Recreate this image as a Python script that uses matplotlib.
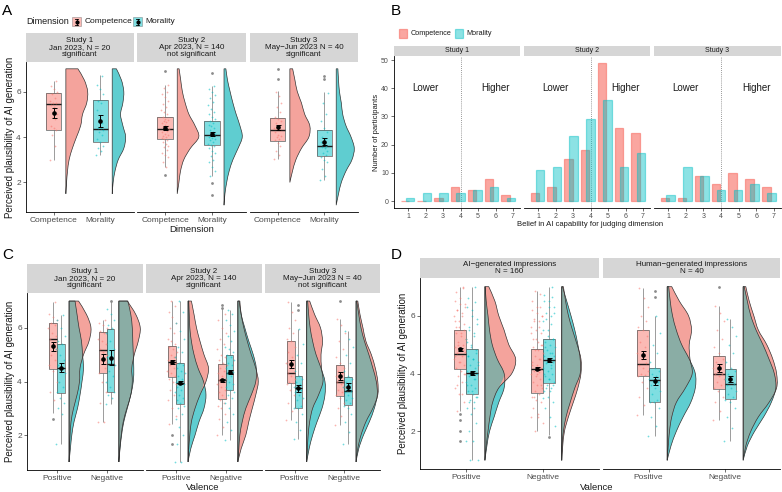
import numpy as np
import matplotlib.pyplot as plt
from matplotlib.path import Path
from matplotlib.patches import PathPatch, Rectangle

plt.rcParams['font.family'] = ['Liberation Sans', 'DejaVu Sans']

RED = '#F8766D'
TEAL = '#00BFC4'
RED_V = '#F4A39C'
TEAL_V = '#5FCDD0'
MIX_V = '#8AADA5'
TXT = '#4D4D4D'
STRIP = '#D6D6D6'

# ---------------- data ----------------
dims = ['Competence', 'Morality']
valences = ['Positive', 'Negative']
dens_y = [1.0, 1.5, 2.0, 2.5, 3.0, 3.5, 4.0, 4.5, 5.0, 5.5, 6.0, 6.5, 7.0]

# panel A (by dimension), one entry per study
a_strips = ['Study 1\nJan 2023, N = 20\nsignificant',
            'Study 2\nApr 2023, N = 140\nnot significant',
            'Study 3\nMay\u2212Jun 2023 N = 40\nsignificant']
# box = [lower whisker, q1, median, q3, upper whisker]
a_comp_box = [[3.0, 4.33, 5.46, 5.95, 6.46], [2.7, 3.90, 4.37, 4.86, 6.3], [3.04, 3.81, 4.30, 4.83, 6.04]]
a_mor_box = [[3.19, 3.78, 4.34, 5.62, 6.73], [2.3, 3.66, 4.10, 4.71, 6.25], [2.1, 3.15, 3.59, 4.33, 6.0]]
a_comp_mean = [5.05, 4.40, 4.42]
a_comp_se = [0.22, 0.08, 0.13]
a_mor_mean = [4.70, 4.15, 3.80]
a_mor_se = [0.25, 0.09, 0.15]
a_comp_dens = [[0, 0, .015, .036, .07, .14, .23, .32, .36, .45, .47, .40, .26],
               [0, 0, .036, .07, .14, .28, .46, .38, .25, .17, .11, .075, .04],
               [0, 0, 0, .057, .13, .25, .41, .43, .32, .25, .16, .11, .06]]
a_mor_dens = [[0, 0, .02, .06, .13, .25, .29, .23, .18, .23, .25, .20, .09],
              [0, .02, .057, .11, .19, .30, .39, .34, .26, .19, .13, .075, .04],
              [0, .05, .11, .21, .34, .39, .32, .21, .14, .11, .07, .05, .036]]
a_comp_pts = [[3.0, 3.6, 4.1, 4.3, 4.4, 4.5, 4.8, 4.9, 5.0, 5.3, 5.4, 5.5, 5.5, 5.6, 5.7, 5.9, 6.0, 6.1, 6.25, 6.45],
              [2.35, 2.7, 2.9, 3.1, 3.2, 3.3, 3.45, 3.55, 3.6, 3.7, 3.8, 3.85, 3.9, 3.95, 4.0, 4.05, 4.1, 4.15,
               4.2, 4.25, 4.3, 4.35, 4.4, 4.45, 4.5, 4.55, 4.6, 4.65, 4.7, 4.75, 4.8, 4.9, 5.0, 5.1, 5.2, 5.3,
               5.45, 5.6, 5.75, 5.9, 6.0, 6.15, 6.3, 6.9],
              [3.05, 3.2, 3.4, 3.6, 3.75, 3.85, 3.9, 4.0, 4.05, 4.1, 4.2, 4.3, 4.35, 4.4, 4.5, 4.6, 4.7, 4.8,
               4.9, 5.1, 5.3, 5.5, 5.8, 6.0, 6.55, 6.98]]
a_mor_pts = [[3.2, 3.4, 3.5, 3.6, 3.8, 3.9, 4.1, 4.2, 4.3, 4.4, 4.4, 4.6, 4.9, 5.2, 5.5, 5.6, 5.9, 6.1, 6.3, 6.7],
             [1.45, 1.98, 2.3, 2.5, 2.7, 2.9, 3.0, 3.15, 3.3, 3.4, 3.5, 3.6, 3.65, 3.7, 3.8, 3.85, 3.9, 3.95,
              4.0, 4.05, 4.1, 4.15, 4.2, 4.3, 4.4, 4.5, 4.55, 4.6, 4.7, 4.8, 4.9, 5.0, 5.1, 5.25, 5.4, 5.55,
              5.7, 5.85, 6.0, 6.1, 6.25, 6.83],
             [2.1, 2.3, 2.6, 2.9, 3.0, 3.1, 3.2, 3.3, 3.4, 3.5, 3.55, 3.6, 3.7, 3.8, 3.9, 4.0, 4.2, 4.4, 4.7,
              5.0, 5.5, 5.95, 6.54, 6.69]]

# panel B: counts per belief level 1..7
b_strips = ['Study 1', 'Study 2', 'Study 3']
b_levels = [1, 2, 3, 4, 5, 6, 7]
b_comp = [[0, 0, 1, 5, 4, 8, 2], [3, 5, 15, 18, 49, 26, 24], [1, 1, 9, 6, 10, 8, 5]]
b_mor = [[1, 3, 3, 3, 4, 5, 1], [11, 12, 23, 29, 36, 12, 17], [2, 12, 9, 4, 4, 6, 3]]

# panel C (by valence x dimension), [study][valence]
c_strips = ['Study 1\nJan 2023, N = 20\nsignificant',
            'Study 2\nApr 2023, N = 140\nsignificant',
            'Study 3\nMay\u2212Jun 2023 N = 40\nnot significant']
c_comp_box = [[[2.81, 4.48, 5.57, 6.18, 6.96], [2.5, 4.33, 5.16, 5.83, 6.3]],
              [[2.4, 4.15, 4.73, 5.33, 7.0], [2.0, 3.33, 4.05, 4.64, 6.7]],
              [[2.56, 3.93, 4.32, 5.52, 6.96], [2.38, 3.47, 4.0, 4.6, 6.34]]]
c_mor_box = [[[1.66, 3.58, 4.51, 5.41, 6.47], [3.16, 3.59, 4.66, 5.97, 6.96]],
             [[1.0, 3.16, 3.96, 4.68, 7.0], [1.82, 3.68, 4.32, 4.98, 6.65]],
             [[1.84, 3.0, 3.76, 4.2, 5.97], [1.67, 3.12, 3.65, 4.15, 5.9]]]
c_comp_mean = [[5.31, 4.84], [4.73, 4.05], [4.64, 4.19]]
c_comp_se = [[0.17, 0.17], [0.06, 0.06], [0.15, 0.15]]
c_mor_mean = [[4.52, 4.89], [3.96, 4.36], [3.74, 3.81]]
c_mor_se = [[0.18, 0.28], [0.07, 0.07], [0.14, 0.12]]
c_comp_dens = [[[0, .01, .02, .04, .09, .16, .21, .22, .29, .40, .44, .35, .19],
                [0, .02, .047, .088, .16, .24, .27, .26, .31, .39, .43, .34, .17]],
               [[0, .014, .035, .067, .14, .24, .36, .41, .32, .24, .17, .12, .067],
                [0, .067, .16, .22, .29, .36, .41, .36, .27, .19, .12, .067, .04]],
               [[0, .014, .03, .06, .12, .24, .33, .30, .29, .32, .28, .16, .06],
                [0, .035, .10, .20, .34, .44, .44, .39, .31, .20, .14, .08, .035]]]
c_mor_dens = [[[0, .027, .055, .10, .17, .22, .26, .29, .27, .25, .20, .16, .12],
               [0, .024, .055, .10, .17, .24, .29, .30, .29, .28, .27, .24, .18]],
              [[0, .055, .14, .22, .32, .36, .31, .20, .12, .067, .035, .024, .014],
               [0, .02, .04, .088, .16, .27, .36, .37, .31, .22, .14, .067, .027]],
              [[0, .05, .12, .21, .31, .37, .37, .29, .19, .12, .07, .04, .02],
               [0, .055, .15, .27, .37, .43, .41, .34, .26, .17, .10, .055, .014]]]
c_comp_pts = [[[2.6, 3.3, 3.6, 4.0, 4.4, 4.6, 4.8, 5.0, 5.2, 5.4, 5.6, 5.7, 5.8, 6.0, 6.1, 6.2, 6.3, 6.4, 6.5, 6.96],
               [2.5, 2.5, 3.2, 3.6, 4.0, 4.3, 4.5, 4.8, 5.0, 5.1, 5.2, 5.4, 5.5, 5.6, 5.8, 5.9, 6.0, 6.1, 6.2, 6.3]],
              [[1.67, 2.0, 2.4, 2.7, 3.0, 3.3, 3.5, 3.7, 3.9, 4.0, 4.1, 4.2, 4.3, 4.4, 4.5, 4.6, 4.7, 4.75,
                4.8, 4.9, 5.0, 5.1, 5.2, 5.3, 5.4, 5.5, 5.6, 5.8, 6.0, 6.2, 6.4, 6.6, 6.8, 7.0],
               [2.0, 2.3, 2.6, 2.8, 3.0, 3.1, 3.2, 3.3, 3.4, 3.5, 3.6, 3.7, 3.8, 3.9, 4.0, 4.05, 4.1, 4.2,
                4.3, 4.4, 4.5, 4.6, 4.7, 4.8, 4.9, 5.0, 5.2, 5.4, 5.6, 5.8, 6.0, 6.3, 6.5, 6.75, 6.84]],
              [[2.56, 2.9, 3.2, 3.5, 3.7, 3.9, 3.95, 4.0, 4.1, 4.2, 4.3, 4.35, 4.5, 4.7, 4.9, 5.1, 5.3, 5.5,
                5.6, 5.8, 6.0, 6.3, 6.6, 6.96],
               [2.38, 2.7, 3.0, 3.2, 3.4, 3.5, 3.6, 3.7, 3.8, 3.9, 4.0, 4.0, 4.1, 4.2, 4.3, 4.4, 4.5, 4.7,
                4.9, 5.2, 5.5, 5.8, 6.1, 6.34, 7.0]]]
c_mor_pts = [[[1.66, 2.8, 3.0, 3.2, 3.4, 3.6, 3.8, 4.0, 4.3, 4.5, 4.6, 4.8, 5.0, 5.2, 5.4, 5.5, 5.7, 6.0, 6.3, 6.47],
              [3.16, 3.4, 3.5, 3.6, 3.8, 4.0, 4.2, 4.4, 4.6, 4.7, 4.9, 5.2, 5.5, 5.8, 6.0, 6.1, 6.3, 6.5, 6.7, 7.0]],
             [[1.0, 1.0, 1.67, 2.0, 2.3, 2.6, 2.8, 3.0, 3.1, 3.2, 3.3, 3.4, 3.5, 3.6, 3.7, 3.8, 3.9, 4.0,
               4.0, 4.1, 4.2, 4.3, 4.4, 4.5, 4.6, 4.7, 4.9, 5.1, 5.3, 5.6, 5.9, 6.2, 6.6, 7.0],
              [1.82, 2.2, 2.5, 2.8, 3.0, 3.2, 3.4, 3.5, 3.6, 3.7, 3.8, 3.9, 4.0, 4.1, 4.2, 4.3, 4.35, 4.4,
               4.5, 4.6, 4.7, 4.8, 4.9, 5.0, 5.1, 5.2, 5.3, 5.5, 5.7, 5.9, 6.1, 6.3, 6.5, 6.65]],
             [[1.84, 2.2, 2.5, 2.8, 3.0, 3.0, 3.1, 3.3, 3.4, 3.5, 3.6, 3.7, 3.75, 3.8, 3.9, 4.0, 4.1, 4.2,
               4.4, 4.7, 5.0, 5.4, 5.97, 6.65, 6.84],
              [1.67, 2.1, 2.5, 2.8, 3.0, 3.1, 3.2, 3.3, 3.4, 3.5, 3.6, 3.65, 3.7, 3.8, 3.9, 4.0, 4.1, 4.2,
               4.4, 4.7, 5.0, 5.3, 5.6, 5.9]]]

# panel D: AI-generated (studies 1+2) and human-generated (study 3)
d_strips = ['AI\u2212generated impressions\nN = 160', 'Human\u2212generated impressions\nN = 40']
d_ai_comp_box = [[2.7, 4.17, 4.68, 5.52, 7.0], [2.0, 3.34, 4.17, 4.86, 6.84]]
d_ai_mor_box = [[1.0, 3.3, 4.02, 4.86, 7.0], [1.87, 3.68, 4.46, 5.18, 7.0]]
d_ai_comp_mean = [4.83, 4.17]
d_ai_comp_se = [0.06, 0.05]
d_ai_mor_mean = [4.02, 4.46]
d_ai_mor_se = [0.06, 0.06]
d_ai_comp_dens = [[0, .017, .04, .065, .10, .18, .35, .40, .31, .25, .18, .13, .05],
                  [0, .013, .035, .087, .15, .21, .25, .25, .20, .14, .087, .05, .022]]
d_ai_mor_dens = [[0, .026, .06, .12, .18, .25, .25, .16, .095, .06, .04, .017, .004],
                 [0, .004, .022, .056, .11, .17, .24, .24, .21, .17, .12, .065, .01]]

# ---------------- layout helpers ----------------
W, H = 782, 492
fig = plt.figure(figsize=(W / 100, H / 100), dpi=100)


def px_axes(x0, y0, x1, y1):
    return fig.add_axes([x0 / W, 1 - y1 / H, (x1 - x0) / W, (y1 - y0) / H])


def strip(x0, y0, x1, y1, label, size):
    s = px_axes(x0, y0, x1, y1)
    s.set_facecolor(STRIP)
    s.set_xticks([])
    s.set_yticks([])
    for sp in s.spines.values():
        sp.set_visible(False)
    s.text(0.5, 0.5, label, ha='center', va='center', fontsize=size, color='#1A1A1A',
           linespacing=1.05, transform=s.transAxes)


def style(ax, first, xt, xl, ylim, yt, fs=6):
    ax.set_ylim(*ylim)
    for sp in ['top', 'right']:
        ax.spines[sp].set_visible(False)
    ax.spines['left'].set_visible(first)
    ax.spines['bottom'].set_linewidth(0.6)
    ax.spines['left'].set_linewidth(0.6)
    ax.set_xticks(xt)
    ax.set_xticklabels(xl)
    ax.tick_params(length=2.5, width=0.5, pad=1.2, labelsize=fs, labelcolor=TXT, color='#333333')
    if first:
        ax.set_yticks(yt)
    else:
        ax.set_yticks([])
    ax.patch.set_alpha(0)


def half_violin(x0, ws):
    ys = np.asarray(dens_y, float)
    ws = np.asarray(ws, float)
    nz = np.nonzero(ws > 0)[0]
    i0 = max(nz[0] - 1, 0)
    ys, ws = ys[i0:nz[-1] + 1], ws[i0:nz[-1] + 1]
    pts = np.column_stack([x0 + ws, ys])[::-1]
    verts = [(x0, ys[0]), (x0, ys[-1]), tuple(pts[0])]
    codes = [Path.MOVETO, Path.LINETO, Path.LINETO]
    n = len(pts)
    for k in range(n - 1):
        p0, p1, p2, p3 = pts[max(k - 1, 0)], pts[k], pts[k + 1], pts[min(k + 2, n - 1)]
        verts += [tuple(p1 + (p2 - p0) / 6), tuple(p2 - (p3 - p1) / 6), tuple(p2)]
        codes += [Path.CURVE4] * 3
    verts.append((x0, ys[0]))
    codes.append(Path.CLOSEPOLY)
    return Path(verts, codes)


def draw_box(ax, cx, w, bx, col):
    lo, q1, med, q3, hi = bx
    ax.vlines(cx, lo, q1, color='#8C8C8C', lw=0.6, zorder=2)
    ax.vlines(cx, q3, hi, color='#8C8C8C', lw=0.6, zorder=2)
    ax.add_patch(Rectangle((cx - w / 2, q1), w, q3 - q1, facecolor=col, alpha=0.5,
                           edgecolor='none', zorder=3))
    ax.add_patch(Rectangle((cx - w / 2, q1), w, q3 - q1, fill=False,
                           edgecolor='#595959', lw=0.5, zorder=3))
    ax.hlines(med, cx - w / 2, cx + w / 2, color='#1A1A1A', lw=1.0, zorder=4)


def draw_points(ax, cx, jw, pts, bx, col):
    v = np.asarray(pts, float)
    off = ((np.arange(len(v)) * 0.618034) % 1 - 0.5) * jw
    inside = (v >= bx[0]) & (v <= bx[4])
    ax.scatter(cx + off[inside], v[inside], s=1.6, color=col, alpha=0.55, lw=0, zorder=5)
    ax.scatter(np.full((~inside).sum(), cx), v[~inside], s=4, color='#6E6E6E', alpha=0.8, lw=0, zorder=5)


def draw_mean(ax, cx, m, se):
    ax.errorbar(cx, m, yerr=se, fmt='o', color='black', ms=2.3, capsize=1.8,
                elinewidth=0.7, capthick=0.7, zorder=7)


ov = fig.add_axes([0, 0, 1, 1])
ov.set_xlim(0, W)
ov.set_ylim(H, 0)
ov.axis('off')

YLIM = (0.7, 7.3)
XLIM = (0.4, 2.73)

# ---------------- panel A ----------------
a_x = [(26, 134), (137, 246), (250, 358)]
for i, (x0, x1) in enumerate(a_x):
    strip(x0, 33, x1, 62, a_strips[i], 5.8)
    ax = px_axes(x0, 62, x1, 212)
    style(ax, i == 0, [1, 2], dims, YLIM, [2, 4, 6])
    ax.set_xlim(*XLIM)
    groups = [(a_comp_box[i], a_comp_mean[i], a_comp_se[i], a_comp_dens[i], a_comp_pts[i], RED, RED_V),
              (a_mor_box[i], a_mor_mean[i], a_mor_se[i], a_mor_dens[i], a_mor_pts[i], TEAL, TEAL_V)]
    for j, (bx, m, se, dn, pts, col, vcol) in enumerate(groups):
        x = j + 1
        ax.add_patch(PathPatch(half_violin(x + 0.26, dn), facecolor=vcol, edgecolor='#333333',
                               lw=0.5, zorder=1))
        draw_box(ax, x, 0.33, bx, col)
        draw_points(ax, x, 0.16, pts, bx, col)
        draw_mean(ax, x, m, se)

# ---------------- panel B ----------------
b_x = [(394, 520), (524, 650), (654, 781)]
for i, (x0, x1) in enumerate(b_x):
    strip(x0, 46, x1, 56, b_strips[i], 5)
    ax = px_axes(x0, 56, x1, 208)
    style(ax, i == 0, b_levels, [str(v) for v in b_levels], (-2.45, 51.45), [0, 10, 20, 30, 40, 50], fs=5)
    ax.set_xlim(0.2, 7.4)
    lv = np.asarray(b_levels, float)
    pos = 4 + 0.96 * (lv - 4)
    ax.bar(pos - 0.3, b_comp[i], width=0.48, color=RED, alpha=0.65, edgecolor=RED, lw=0.9, zorder=2)
    ax.bar(pos + 0.0, b_mor[i], width=0.5, color=TEAL, alpha=0.45, edgecolor=TEAL, lw=0.9, zorder=3)
    ax.axvline(4, color='#777777', lw=0.6, ls=(0, (1, 1.5)), zorder=1)
    ax.text(2, 40, 'Lower', ha='center', va='center', fontsize=7, color='#1A1A1A')
    ax.text(6, 40, 'Higher', ha='center', va='center', fontsize=7, color='#1A1A1A')

# ---------------- panel C ----------------
def rain_dodged(ax, comp_box, mor_box, comp_mean, comp_se, mor_mean, mor_se,
                comp_dens, mor_dens, comp_pts, mor_pts, jw):
    for v in range(2):
        x = v + 1
        x0 = x + 0.245
        overlap = np.minimum(comp_dens[v], mor_dens[v])
        ax.add_patch(PathPatch(half_violin(x0, mor_dens[v]), facecolor=TEAL_V, edgecolor='none', zorder=1))
        ax.add_patch(PathPatch(half_violin(x0, comp_dens[v]), facecolor=RED_V, edgecolor='none', zorder=1))
        ax.add_patch(PathPatch(half_violin(x0, overlap), facecolor=MIX_V, edgecolor='none', zorder=1))
        ax.add_patch(PathPatch(half_violin(x0, mor_dens[v]), fill=False, edgecolor='#333333', lw=0.5, zorder=1))
        ax.add_patch(PathPatch(half_violin(x0, comp_dens[v]), fill=False, edgecolor='#333333', lw=0.5, zorder=1))
        for d, (bx, m, se, pts, col) in enumerate([
                (comp_box[v], comp_mean[v], comp_se[v], comp_pts[v], RED),
                (mor_box[v], mor_mean[v], mor_se[v], mor_pts[v], TEAL)]):
            cx = x - 0.078 if d == 0 else x + 0.078
            draw_box(ax, cx, 0.155, bx, col)
            draw_points(ax, cx, jw, pts, bx, col)
            draw_mean(ax, cx, m, se)


c_x = [(27, 143), (146, 262), (265, 380)]
for i, (x0, x1) in enumerate(c_x):
    strip(x0, 264, x1, 293, c_strips[i], 5.8)
    ax = px_axes(x0, 293, x1, 470)
    style(ax, i == 0, [1, 2], valences, YLIM, [2, 4, 6])
    ax.set_xlim(*XLIM)
    rain_dodged(ax, c_comp_box[i], c_mor_box[i], c_comp_mean[i], c_comp_se[i], c_mor_mean[i], c_mor_se[i],
                c_comp_dens[i], c_mor_dens[i], c_comp_pts[i], c_mor_pts[i], 0.2)

# ---------------- panel D ----------------
d_comp_box = [d_ai_comp_box, c_comp_box[2]]
d_mor_box = [d_ai_mor_box, c_mor_box[2]]
d_comp_mean = [d_ai_comp_mean, c_comp_mean[2]]
d_comp_se = [d_ai_comp_se, c_comp_se[2]]
d_mor_mean = [d_ai_mor_mean, c_mor_mean[2]]
d_mor_se = [d_ai_mor_se, c_mor_se[2]]
d_comp_dens = [d_ai_comp_dens, c_comp_dens[2]]
d_mor_dens = [d_ai_mor_dens, c_mor_dens[2]]
d_comp_pts = [[c_comp_pts[0][v] + c_comp_pts[1][v] for v in range(2)], c_comp_pts[2]]
d_mor_pts = [[c_mor_pts[0][v] + c_mor_pts[1][v] for v in range(2)], c_mor_pts[2]]

d_x = [(420, 599), (603, 780)]
for i, (x0, x1) in enumerate(d_x):
    strip(x0, 258, x1, 278, d_strips[i], 5.8)
    ax = px_axes(x0, 278, x1, 469)
    style(ax, i == 0, [1, 2], valences, YLIM, [2, 4, 6])
    ax.set_xlim(*XLIM)
    rain_dodged(ax, d_comp_box[i], d_mor_box[i], d_comp_mean[i], d_comp_se[i], d_mor_mean[i], d_mor_se[i],
                d_comp_dens[i], d_mor_dens[i], d_comp_pts[i], d_mor_pts[i], 0.16)

# ---------------- titles, letters, legends ----------------
for lab, x, y in [('A', 2, 15), ('B', 391, 15), ('C', 2, 259), ('D', 391, 259)]:
    ov.text(x, y, lab, fontsize=11, color='black', va='baseline')

ylab = 'Perceived plausibility of AI generation'
ov.text(10, 137, ylab, rotation=90, ha='center', va='center', fontsize=7, color='#1A1A1A')
ov.text(10, 381, ylab, rotation=90, ha='center', va='center', fontsize=7, color='#1A1A1A')
ov.text(403, 373, ylab, rotation=90, ha='center', va='center', fontsize=7, color='#1A1A1A')
ov.text(376, 132, 'Number of participants', rotation=90, ha='center', va='center', fontsize=5.5, color='#1A1A1A')
ov.text(192, 229.5, 'Dimension', ha='center', va='center', fontsize=6.8, color='#1A1A1A')
ov.text(203, 487, 'Valence', ha='center', va='center', fontsize=6.8, color='#1A1A1A')
ov.text(597, 487.5, 'Valence', ha='center', va='center', fontsize=6.8, color='#1A1A1A')
ov.text(590, 224, 'Belief in AI capability for judging dimension', ha='center', va='center',
        fontsize=5.5, color='#1A1A1A')

# legend A
ov.text(26, 21.5, 'Dimension', ha='left', va='center', fontsize=6.5, color='#1A1A1A')
for kx, tx, col, lab in [(72, 85, RED, dims[0]), (133, 145, TEAL, dims[1])]:
    ov.add_patch(Rectangle((kx, 17), 9, 9, facecolor=col, alpha=0.5, edgecolor='#595959', lw=0.5))
    ov.plot([kx + 4.5, kx + 4.5], [18.5, 24.5], color='black', lw=0.6)
    ov.plot([kx + 2.8, kx + 6.2], [18.5, 18.5], color='black', lw=0.6)
    ov.plot([kx + 2.8, kx + 6.2], [24.5, 24.5], color='black', lw=0.6)
    ov.plot(kx + 4.5, 21.5, 'o', color='black', ms=2)
    ov.text(tx, 21.5, lab, ha='left', va='center', fontsize=6, color='#1A1A1A')

# legend B
for kx, tx, col, a, lab in [(398.5, 410.5, RED, 0.65, dims[0]), (454.5, 466.5, TEAL, 0.45, dims[1])]:
    ov.add_patch(Rectangle((kx, 29), 8, 8.5, facecolor=col, alpha=a, edgecolor=col, lw=0.9))
    ov.text(tx, 33.3, lab, ha='left', va='center', fontsize=5.2, color='#1A1A1A')

fig.savefig('out.png', dpi=100)
